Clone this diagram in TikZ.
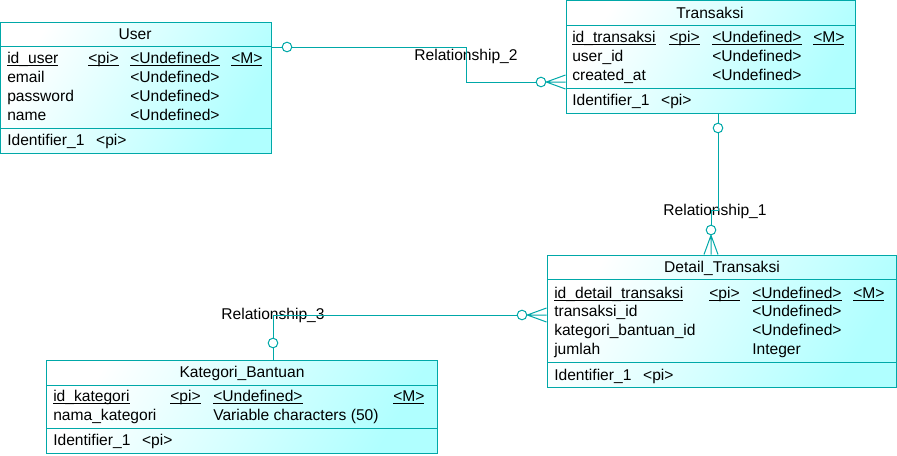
\documentclass[tikz,border=0pt]{standalone}
\usepackage{fontspec}
\setmainfont{Liberation Sans}
\usetikzlibrary{calc,fit}
\definecolor{entline}{RGB}{0,168,168}
\definecolor{entfill}{RGB}{176,255,255}
\newcommand{\pk}[1]{\setbox0=\hbox{#1}\rlap{\rule[-2.4pt]{\wd0}{0.7pt}}\box0}

\begin{document}
\begin{tikzpicture}[x=0.75pt,y=-0.75pt,
  every node/.style={font=\fontsize{11.7}{14}\selectfont},
  ent/.style={draw=entline,line width=0.75pt,inner sep=0pt,
    left color=white,right color=entfill,shading angle=60},
  sep/.style={draw=entline,line width=0.75pt},
  fld/.style={anchor=west,inner sep=0pt,text height=9pt,text depth=1.5pt},
  ttl/.style={inner sep=0pt,text height=9pt,text depth=1.5pt},
  rel/.style={inner sep=0pt,text height=9pt,text depth=1.5pt},
  ring/.style={circle,draw=entline,fill=white,line width=0.75pt,
    minimum size=7.2pt,inner sep=0pt},
  ln/.style={draw=entline,line width=0.75pt}]
\useasboundingbox (0,0) rectangle (897,455);
% User
\node[ent,fit={(0.5,22) (271,153)}] (User) {};
\draw[sep] (0.5,46) -- (271,46) (0.5,128) -- (271,128);
\node[ttl] (UserT) at (135,34) {User};
\node[fld] (UserK) at (7,58) {\pk{id\_user}};
\node[fld] (UserKp) at (88,58) {\pk{<pi>}};
\node[fld] (UserKt) at (130,58) {\pk{<Undefined>}};
\node[fld] (UserKm) at (231,58) {\pk{<M>}};
\foreach \n/\y in {email/77,password/96,name/115} {
  \node[fld] (User-\n) at (7,\y) {\n};
  \node[fld] (User-\n-t) at (130,\y) {<Undefined>};
}
\node[fld] (UserI) at (7,140) {Identifier\_1\hspace{0.75em}<pi>};
% Transaksi
\node[ent,fit={(566,0.5) (855,113)}] (Trans) {};
\draw[sep] (566,25) -- (855,25) (566,88) -- (855,88);
\node[ttl] (TransT) at (710,13) {Transaksi};
\node[fld] (TransK) at (572,37) {\pk{id\_transaksi}};
\node[fld] (TransKp) at (669,37) {\pk{<pi>}};
\node[fld] (TransKt) at (712,37) {\pk{<Undefined>}};
\node[fld] (TransKm) at (813,37) {\pk{<M>}};
\foreach \n/\y [count=\i] in {user\_id/56,created\_at/75} {
  \node[fld] (Trans-\i) at (572,\y) {\n};
  \node[fld] (Trans-\i-t) at (712,\y) {<Undefined>};
}
\node[fld] (TransI) at (572,100) {Identifier\_1\hspace{0.75em}<pi>};
% Detail_Transaksi
\node[ent,fit={(547,255) (896,387)}] (Detail) {};
\draw[sep] (547,279) -- (896,279) (547,362) -- (896,362);
\node[ttl] (DetailT) at (722,267) {Detail\_Transaksi};
\node[fld] (DetailK) at (554,293) {\pk{id\_detail\_transaksi}};
\node[fld] (DetailKp) at (709,293) {\pk{<pi>}};
\node[fld] (DetailKt) at (752,293) {\pk{<Undefined>}};
\node[fld] (DetailKm) at (853,293) {\pk{<M>}};
\foreach \n/\t/\y [count=\i] in {transaksi\_id/<Undefined>/311,
    kategori\_bantuan\_id/<Undefined>/330,jumlah/Integer/349} {
  \node[fld] (Detail-\i) at (554,\y) {\n};
  \node[fld] (Detail-\i-t) at (752,\y) {\t};
}
\node[fld] (DetailI) at (554,375) {Identifier\_1\hspace{0.75em}<pi>};
% Kategori_Bantuan
\node[ent,fit={(46,360) (437,453)}] (Kat) {};
\draw[sep] (46,385) -- (437,385) (46,428) -- (437,428);
\node[ttl] (KatT) at (242,372) {Kategori\_Bantuan};
\node[fld] (KatK) at (53,396) {\pk{id\_kategori}};
\node[fld] (KatKp) at (170,396) {\pk{<pi>}};
\node[fld] (KatKt) at (213,396) {\pk{<Undefined>}};
\node[fld] (KatKm) at (393,396) {\pk{<M>}};
\node[fld] (KatN) at (53,415) {nama\_kategori};
\node[fld] (KatNt) at (213,415) {Variable characters (50)};
\node[fld] (KatI) at (53,440) {Identifier\_1\hspace{0.75em}<pi>};
% Relationship_2
\node[rel] (R2) at (466,55) {Relationship\_2};
\node[ring] (R2u) at (287,47) {};
\node[ring] (R2t) at (541,82) {};
\draw[ln] (User.east |- R2u) -- (R2u) -- (R2u -| R2) |- (R2t);
\draw[ln] (R2t) -- (Trans.west |- R2t)
  (R2t.east) -- ($(Trans.west |- R2t)+(0,-7)$)
  (R2t.east) -- ($(Trans.west |- R2t)+(0,7)$);
% Relationship_1
\node[rel] (R1) at (715,210) {Relationship\_1};
\node[ring] (R1t) at (718,128) {};
\node[ring] (R1d) at (711,230) {};
\draw[ln] (Trans.south -| R1t) -- (R1t) -- (R1t |- R1) -| (R1d);
\draw[ln] (R1d) -- (Detail.north -| R1d)
  (R1d.south) -- ($(Detail.north -| R1d)+(-7,0)$)
  (R1d.south) -- ($(Detail.north -| R1d)+(7,0)$);
% Relationship_3
\node[rel] (R3) at (273,314) {Relationship\_3};
\node[ring] (R3k) at (273,343) {};
\node[ring] (R3d) at (522,315) {};
\draw[ln] (Kat.north -| R3k) -- (R3k) -- (R3k |- R3d) -- (R3d);
\draw[ln] (R3d) -- (Detail.west |- R3d)
  (R3d.east) -- ($(Detail.west |- R3d)+(0,-7)$)
  (R3d.east) -- ($(Detail.west |- R3d)+(0,7)$);
\end{tikzpicture}
\end{document}
